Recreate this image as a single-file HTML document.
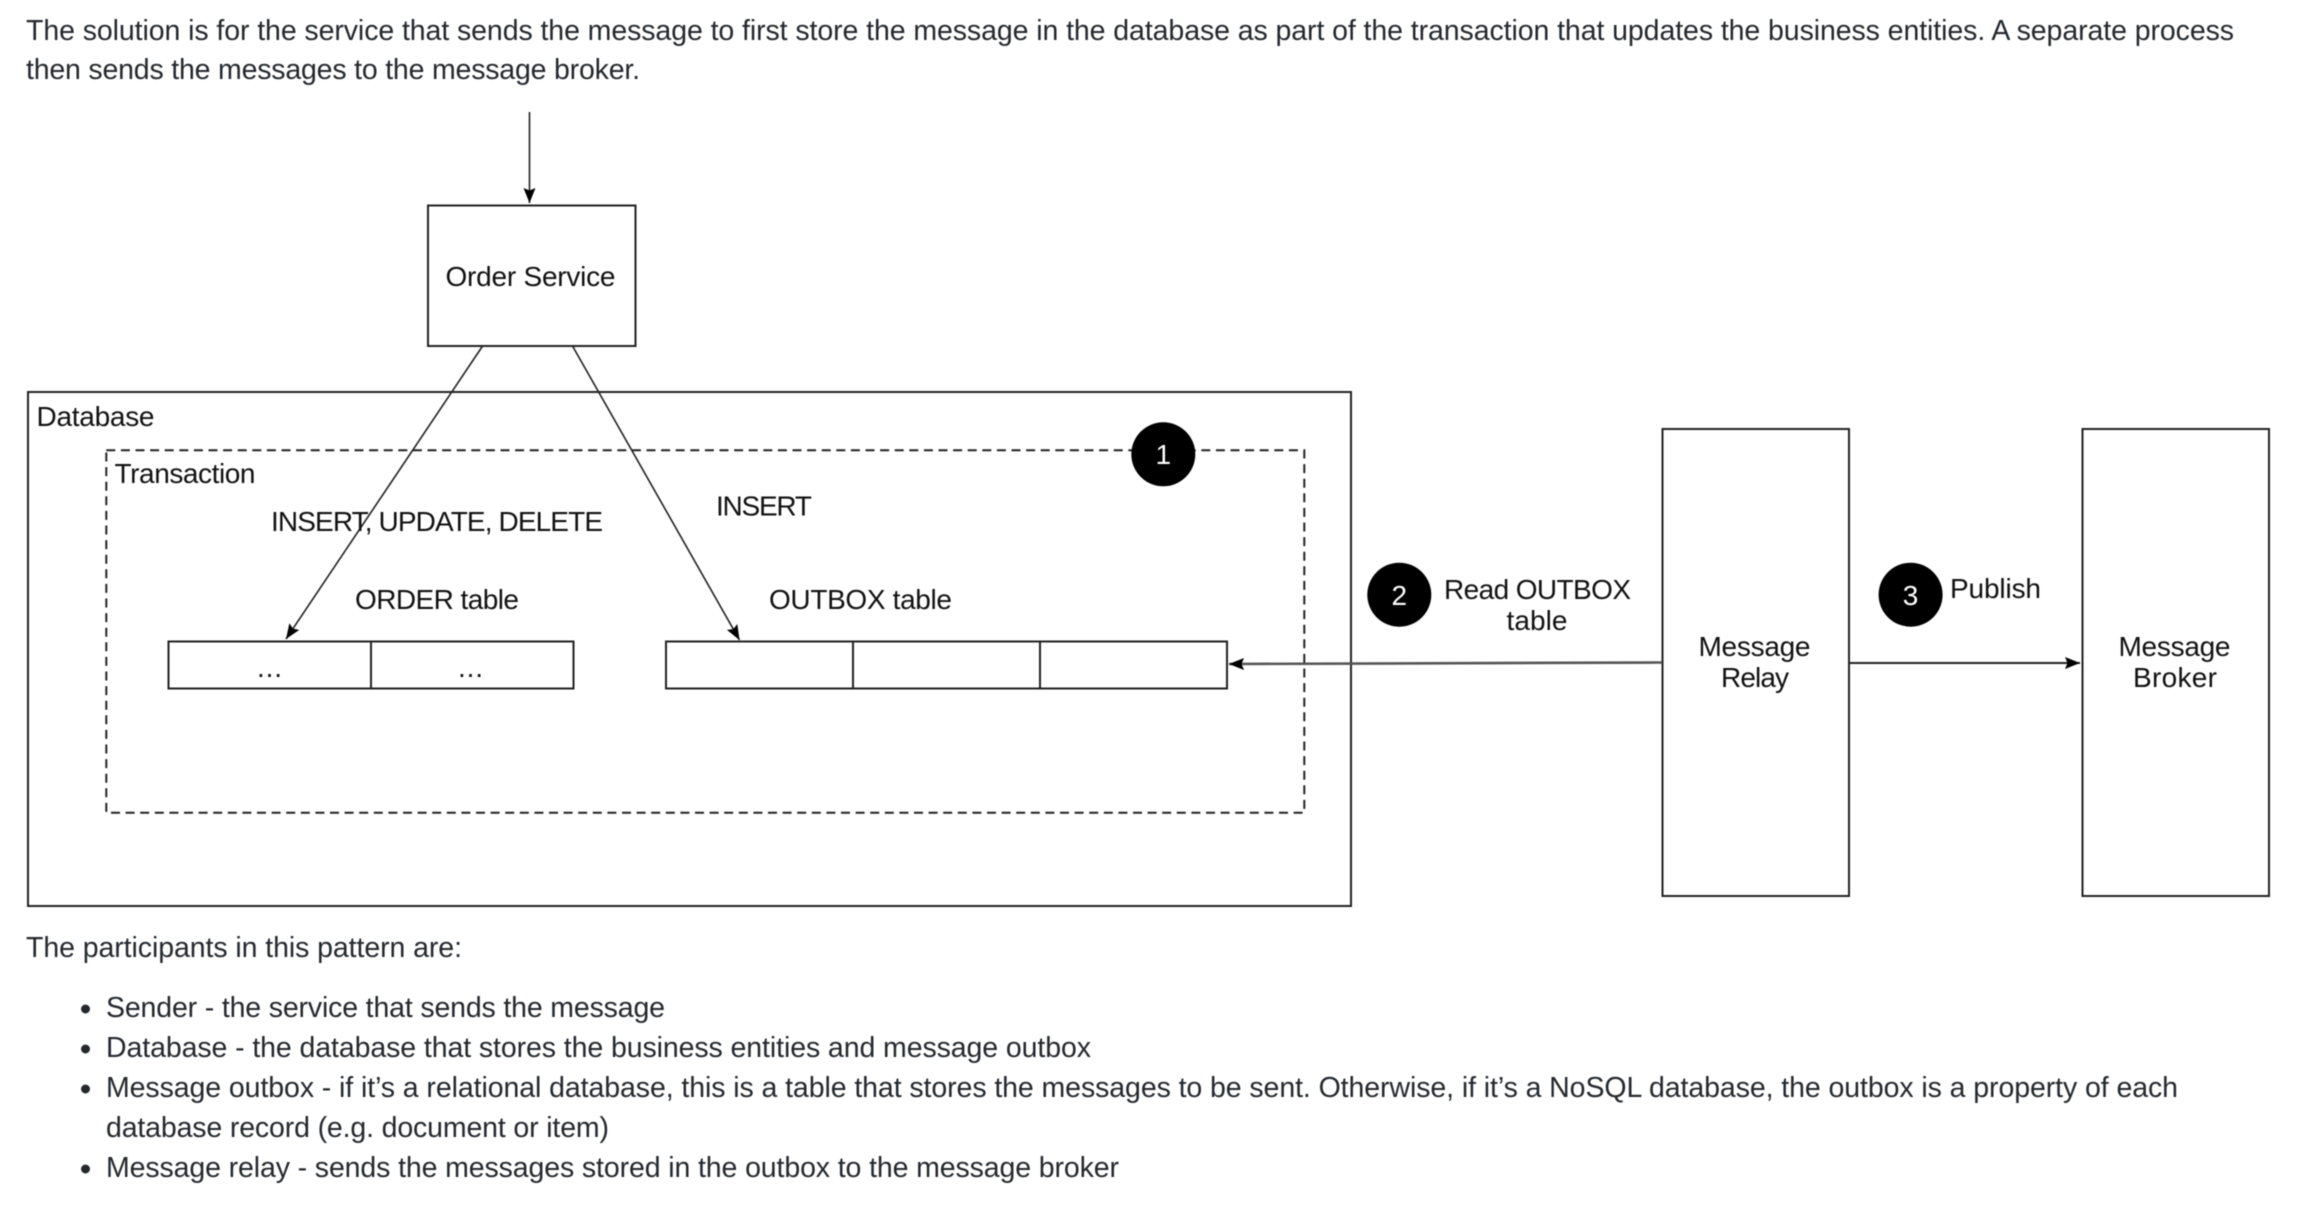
<!DOCTYPE html>
<html><head><meta charset="utf-8"><style>
html,body{margin:0;padding:0;background:#fff;width:2298px;height:1212px;overflow:hidden}
svg{display:block;filter:blur(0.5px)}
text{font-family:"Liberation Sans",Arial,sans-serif;font-size:28px;fill:#111}
.b text{fill:#24292e;font-size:28.5px}
.m{text-anchor:middle}
</style></head><body>
<svg width="2298" height="1212" viewBox="0 0 2298 1212" xmlns="http://www.w3.org/2000/svg">
<defs>
<marker id="a" markerUnits="userSpaceOnUse" markerWidth="16" markerHeight="13" refX="15" refY="6" orient="auto"><path d="M0 0L15 6L0 12L2.500 6z" fill="#000"/></marker>
</defs>
<g class="b">
<text x="26" y="40" textLength="2208">The solution is for the service that sends the message to first store the message in the database as part of the transaction that updates the business entities. A separate process</text>
<text x="26" y="79" textLength="614">then sends the messages to the message broker.</text>
<text x="26" y="957" textLength="436">The participants in this pattern are:</text>
<text x="106" y="1017" textLength="559">Sender - the service that sends the message</text>
<text x="106" y="1057" textLength="985">Database - the database that stores the business entities and message outbox</text>
<text x="106" y="1097" textLength="2072">Message outbox - if it’s a relational database, this is a table that stores the messages to be sent. Otherwise, if it’s a NoSQL database, the outbox is a property of each</text>
<text x="106" y="1137" textLength="503">database record (e.g. document or item)</text>
<text x="106" y="1177" textLength="1013">Message relay - sends the messages stored in the outbox to the message broker</text>
</g>
<g fill="#24292e"><circle cx="85.5" cy="1009" r="4.500"/><circle cx="85.5" cy="1049" r="4.500"/><circle cx="85.5" cy="1089" r="4.500"/><circle cx="85.5" cy="1169" r="4.500"/></g>
<g fill="none" stroke="#222" stroke-width="2">
<rect x="28" y="392" width="1323" height="514"/>
<rect x="106.300" y="450.300" width="1198" height="362.500" stroke-dasharray="9 5.600"/>
<rect x="428" y="205.500" width="207.500" height="140.500"/>
<rect x="1662.500" y="429" width="186.500" height="467"/>
<rect x="2082.500" y="429" width="186.500" height="467"/>
<rect x="168.500" y="641.500" width="405" height="47"/>
<path d="M371 641.500V688.500"/>
<rect x="666" y="641.500" width="561" height="47"/>
<path d="M853 641.500V688.500M1040 641.500V688.500"/>
</g>
<g fill="none" stroke="#222" stroke-width="1.600">
<path d="M529.500 112V203" marker-end="url(#a)"/>
<path d="M482.600 346L286 639" marker-end="url(#a)"/>
<path d="M572.500 346L739.500 640" marker-end="url(#a)"/>
<path d="M1662 662.500L1229 664" stroke="#555" stroke-width="2.600" marker-end="url(#a)"/>
<path d="M1849 663H2080" stroke-width="2" marker-end="url(#a)"/>
</g>
<circle cx="1163.300" cy="454.300" r="32"/><circle cx="1399.300" cy="594.700" r="32"/><circle cx="1910.600" cy="594.700" r="32"/>
<text class="m" x="1163.300" y="464" style="fill:#fff">1</text><text class="m" x="1399.300" y="605" style="fill:#fff">2</text><text class="m" x="1910.600" y="605" style="fill:#fff">3</text>
<text x="445.500" y="286" textLength="170">Order Service</text>
<text x="36.500" y="426" textLength="118">Database</text>
<text x="114.500" y="483" textLength="141">Transaction</text>
<text x="271" y="531" textLength="332">INSERT, UPDATE, DELETE</text>
<text x="716" y="515.500" textLength="96">INSERT</text>
<text x="355" y="609" textLength="164">ORDER table</text>
<text x="769" y="609" textLength="183">OUTBOX table</text>
<text x="257" y="677" textLength="25">...</text>
<text x="458" y="677" textLength="25">...</text>
<text x="1444" y="599" textLength="187">Read OUTBOX</text>
<text x="1506.500" y="630" textLength="61">table</text>
<text x="1950" y="598" textLength="91">Publish</text>
<text x="1698.500" y="656" textLength="112">Message</text>
<text x="1721" y="687" textLength="68">Relay</text>
<text x="2118.500" y="656" textLength="112">Message</text>
<text x="2133" y="687" textLength="84">Broker</text>
</svg>
</body></html>
